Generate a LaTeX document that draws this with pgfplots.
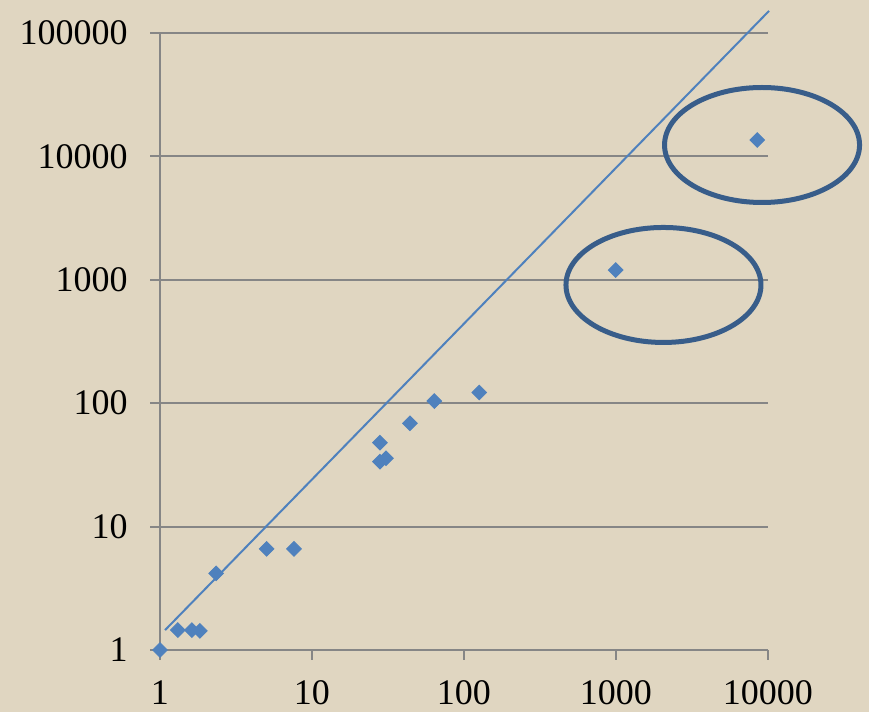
\documentclass[border=0pt]{standalone}
\usepackage{fontspec}
\setmainfont{Liberation Serif}
\usepackage{pgfplots}
\pgfplotsset{compat=1.18}
\definecolor{bgbeige}{RGB}{224,214,193}
\definecolor{gridgray}{RGB}{134,134,134}
\definecolor{serblue}{RGB}{79,129,189}
\definecolor{ellblue}{RGB}{56,93,138}
\begin{document}
\begin{tikzpicture}
\useasboundingbox (0,0) rectangle (434.5pt,356pt);
\fill[bgbeige] (0,0) rectangle (434.5pt,356pt);
\begin{axis}[
  at={(80pt,31pt)}, anchor=south west,
  scale only axis, width=304pt, height=308.5pt,
  xmode=log, ymode=log,
  xmin=1, xmax=10000, ymin=1, ymax=100000,
  clip=false,
  axis lines=left,
  axis line style={draw=gridgray, line width=1pt, -},
  xtick={1,10,100,1000,10000},
  xticklabels={1,10,100,1000,10000},
  ytick={1,10,100,1000,10000,100000},
  yticklabels={1,10,100,1000,10000,100000},
  xminorticks=false, yminorticks=false,
  tick align=outside,
  major tick length=5pt,
  tick style={draw=gridgray, line width=1pt},
  ymajorgrids=true,
  major grid style={draw=gridgray, line width=1pt},
  tick label style={font=\fontsize{18}{20}\selectfont, inner sep=0pt},
  yticklabel style={anchor=east, xshift=-11pt},
  xticklabel style={anchor=north, yshift=-10pt},
]
\addplot[serblue, line width=1pt, no marks] coordinates {(1.08,1.45) (10160,151000)};
\addplot[only marks, mark=square*, mark size=2.6pt, mark options={rotate=45, fill=serblue, draw=serblue}] coordinates {
(1,1)
(1.31,1.45)
(1.62,1.45)
(1.83,1.43)
(2.34,4.18)
(5.03,6.6)
(7.61,6.6)
(28.0,47.9)
(28.0,33.6)
(30.7,35.8)
(44.1,68.7)
(63.8,104)
(126,122)
(995,1200)
(8505,13580)
};
\draw[ellblue, line width=2.5pt] (axis cs:9140,12370) ellipse [x radius=48.75pt, y radius=28.75pt];
\draw[ellblue, line width=2.5pt] (axis cs:2053,908) ellipse [x radius=48.75pt, y radius=28.75pt];
\end{axis}
\end{tikzpicture}
\end{document}
